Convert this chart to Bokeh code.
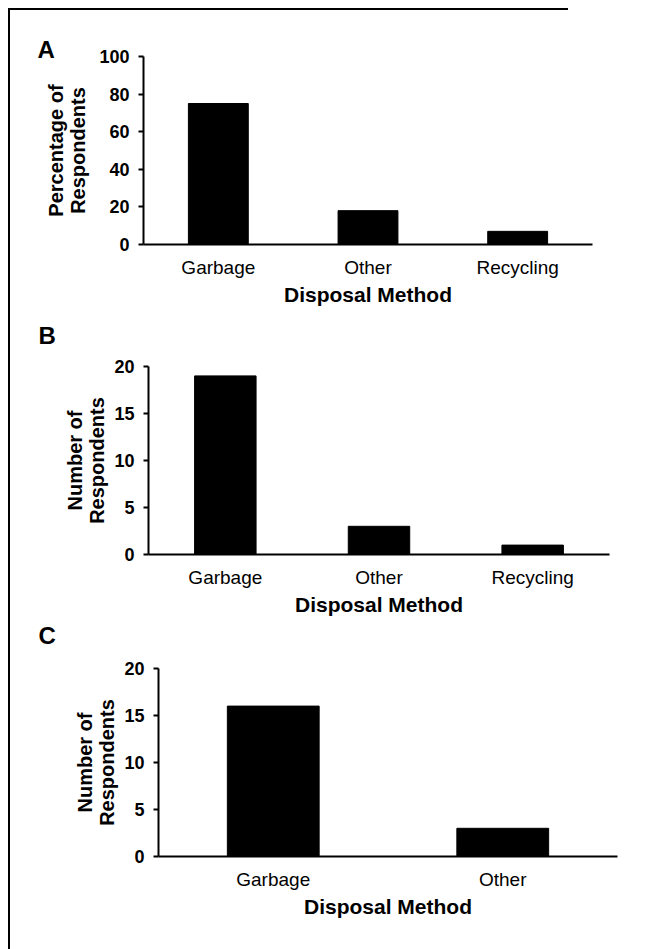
from bokeh.plotting import figure
from bokeh.models import FactorRange, Range1d, FixedTicker, Spacer
from bokeh.embed import file_html
from bokeh.resources import INLINE

# ---- data ----
categories_ab = ["Garbage", "Other", "Recycling"]
percent_a = [75, 18, 7]
counts_b = [19, 3, 1]
categories_c = ["Garbage", "Other"]
counts_c = [16, 3]
ticks_a = [0, 20, 40, 60, 80, 100]
ticks_bc = [0, 5, 10, 15, 20]
x_title = "Disposal Method"
y_title_a = "Percentage of\nRespondents"
y_title_bc = "Number of\nRespondents"
panel_letters = ["A", "B", "C"]

FONT = "Liberation Sans"


def make_panel(cats, vals, ticks, ytitle, letter, top_px, frame_w,
               mb_left, mb_top, mb_bottom, t_off, t_stand, ytitle_standoff):
    p = figure(x_range=FactorRange(factors=cats, range_padding=0),
               y_range=Range1d(ticks[0], ticks[-1]),
               frame_width=frame_w, frame_height=188,
               min_border_left=mb_left, min_border_right=10,
               min_border_top=mb_top, min_border_bottom=mb_bottom,
               output_backend="svg", toolbar_location=None,
               styles={"position": "absolute", "left": "10px",
                       "top": f"{top_px}px"})
    p.vbar(x=cats, top=vals, width=0.4, fill_color="black", line_color="black")
    p.outline_line_color = None
    p.xgrid.visible = False
    p.ygrid.visible = False
    p.background_fill_color = None
    p.border_fill_color = None

    p.title.text = letter
    p.title.align = "left"
    p.title.offset = t_off
    try:
        p.title.standoff = t_stand
    except Exception:
        p.title.standoff = 0
    p.title.vertical_align = "bottom"
    p.title.text_font = FONT
    p.title.text_font_size = "24px"
    p.title.text_font_style = "bold"
    p.title.text_color = "black"

    ax = p.xaxis[0]
    ax.axis_line_width = 2
    ax.axis_line_color = "black"
    ax.major_tick_line_color = None
    ax.minor_tick_line_color = None
    ax.major_label_text_font = FONT
    ax.major_label_text_font_size = "19px"
    ax.major_label_text_color = "black"
    ax.major_label_standoff = 6
    ax.axis_label = x_title
    ax.axis_label_text_font = FONT
    ax.axis_label_text_font_size = "21px"
    ax.axis_label_text_font_style = "bold"
    ax.axis_label_text_color = "black"
    ax.axis_label_standoff = 2

    ay = p.yaxis[0]
    ay.ticker = FixedTicker(ticks=ticks)
    ay.axis_line_width = 2
    ay.axis_line_color = "black"
    ay.major_tick_line_width = 2
    ay.major_tick_line_color = "black"
    ay.major_tick_out = 5
    ay.major_tick_in = 0
    ay.minor_tick_line_color = None
    ay.major_label_text_font = FONT
    ay.major_label_text_font_size = "18px"
    ay.major_label_text_font_style = "bold"
    ay.major_label_text_color = "black"
    ay.major_label_standoff = 9
    ay.axis_label = ytitle
    ay.axis_label_text_font = FONT
    ay.axis_label_text_font_size = "20px"
    ay.axis_label_text_font_style = "bold"
    ay.axis_label_text_color = "black"
    ay.axis_label_text_line_height = 1.0
    ay.axis_label_standoff = ytitle_standoff
    return p


pA = make_panel(categories_ab, percent_a, ticks_a, y_title_a, panel_letters[0],
                10, 449, 133, 46, 72, -106, -12, 7)
pB = make_panel(categories_ab, counts_b, ticks_bc, y_title_bc, panel_letters[1],
                300, 461, 138, 66, 72, -110, 35, 3)
pC = make_panel(categories_c, counts_c, ticks_bc, y_title_bc, panel_letters[2],
                598, 459, 148, 70, 72, -120, 39, 3)

top_line = Spacer(width=560, height=2,
                  styles={"position": "absolute", "left": "8px", "top": "8px",
                          "background-color": "black"})
left_line = Spacer(width=2, height=941,
                   styles={"position": "absolute", "left": "8px", "top": "8px",
                           "background-color": "black"})

open("out.html", "w").write(file_html([top_line, left_line, pA, pB, pC], INLINE))
